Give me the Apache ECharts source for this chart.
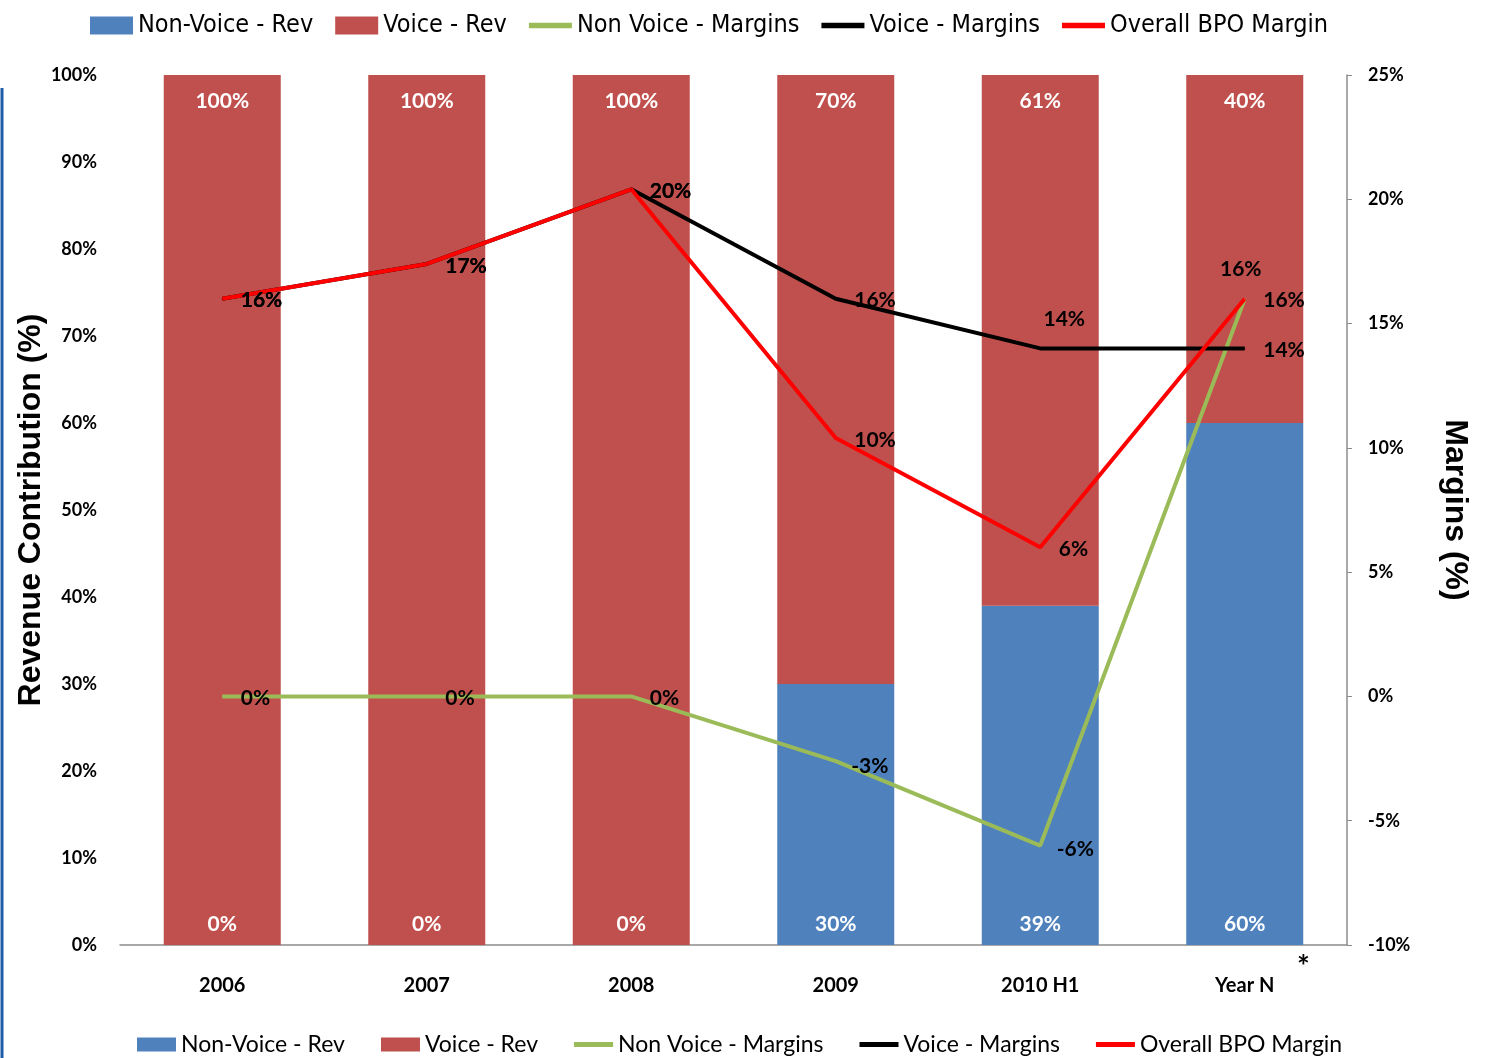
<!DOCTYPE html>
<html>
<head>
<meta charset="utf-8">
<script src="https://cdn.jsdelivr.net/npm/echarts@6/dist/echarts.min.js"></script>
<style>
  html, body { margin: 0; padding: 0; background: #fff; }
  #chart { width: 1488px; height: 1058px; }
</style>
</head>
<body>
<div id="chart"></div>
<script>
// categories and values
var years = ['2006', '2007', '2008', '2009', '2010 H1', 'Year N'];
var nonVoiceRev = [0, 0, 0, 30, 39, 60];
var voiceRev = [100, 100, 100, 70, 61, 40];
var nonVoiceMargin = [0, 0, 0, -2.6, -6.0, 16.0];
var voiceMargin = [16.0, 17.4, 20.4, 16.0, 14.0, 14.0];
var overallMargin = [16.0, 17.4, 20.4, 10.4, 6.0, 16.0];

var seriesNames = ['Non-Voice - Rev', 'Voice - Rev', 'Non Voice - Margins', 'Voice - Margins', 'Overall BPO Margin'];

var labelFont = 'Lato, "Open Sans", sans-serif';
var titleFont = '"Liberation Sans", Arial, sans-serif';
var lineIcon = 'path://M0,0H40V5H0Z';

function pct(p) { return Math.round(p.value) + '%'; }

// legend entries: rect for the bars, a thick bar for the lines
function legendItems() {
  return seriesNames.map(function (n, i) {
    return i < 2 ? { name: n, icon: 'rect' } : { name: n, icon: lineIcon };
  });
}

// per point label placement, index -> label option
function lineData(values, tweaks) {
  return values.map(function (v, i) {
    var item = { value: v };
    if (tweaks[i]) item.label = tweaks[i];
    return item;
  });
}

function lineLabel() {
  return {
    show: true, position: 'right', distance: 18, offset: [0, 2], formatter: pct,
    color: '#000', fontFamily: labelFont, fontWeight: 'bold', fontSize: 21
  };
}

function marginLine(name, values, color, tweaks) {
  return {
    name: name,
    type: 'line',
    yAxisIndex: 1,
    symbol: 'circle',
    symbolSize: 1,
    itemStyle: { color: color },
    lineStyle: { width: 4, color: color },
    data: lineData(values, tweaks),
    label: lineLabel()
  };
}

var option = {
  animation: false,
  color: ['#4F81BD', '#C0504D', '#9BBB59', '#000000', '#FF0000'],
  legend: [
    {
      left: 85,
      top: 8,
      itemWidth: 43,
      itemHeight: 18,
      itemGap: 22,
      textStyle: { fontFamily: '"Liberation Sans Narrow", "DejaVu Sans Condensed", sans-serif', fontSize: 25, color: '#000' },
      data: legendItems()
    },
    {
      left: 132,
      top: 1028,
      itemWidth: 39,
      itemHeight: 14,
      itemGap: 36,
      textStyle: { fontFamily: labelFont, fontSize: 23, color: '#000' },
      data: legendItems()
    }
  ],
  grid: { left: 120, right: 141, top: 75, bottom: 113 },
  xAxis: {
    type: 'category',
    data: years,
    axisLine: { lineStyle: { color: '#8c8c8c', width: 1.5 } },
    axisTick: { show: false },
    axisLabel: { margin: 31, fontFamily: labelFont, fontWeight: 'bold', fontSize: 20, color: '#000' }
  },
  yAxis: [
    {
      type: 'value',
      min: 0, max: 100, interval: 10,
      name: 'Revenue Contribution (%)',
      nameLocation: 'middle',
      nameRotate: 90,
      nameGap: 73,
      nameMoveOverlap: false,
      nameTextStyle: { fontFamily: titleFont, fontWeight: 'bold', fontSize: 32, color: '#000' },
      axisLine: { show: false },
      axisTick: { show: false },
      splitLine: { show: false },
      axisLabel: { margin: 23, formatter: '{value}%', fontFamily: labelFont, fontWeight: 'bold', fontSize: 18, color: '#000' }
    },
    {
      type: 'value',
      min: -10, max: 25, interval: 5,
      name: 'Margins (%)',
      nameLocation: 'middle',
      nameRotate: -90,
      nameGap: 92,
      nameTextStyle: { fontFamily: titleFont, fontWeight: 'bold', fontSize: 32, color: '#000' },
      axisLine: { show: true, lineStyle: { color: '#8c8c8c', width: 1.5 } },
      axisTick: { show: true, length: 5, lineStyle: { color: '#8c8c8c' } },
      splitLine: { show: false },
      axisLabel: { margin: 21, formatter: '{value}%', fontFamily: labelFont, fontWeight: 'bold', fontSize: 18, color: '#000' }
    }
  ],
  series: [
    {
      name: seriesNames[0],
      type: 'bar',
      stack: 'rev',
      barWidth: 117,
      data: nonVoiceRev,
      label: {
        show: true, position: 'insideBottom', distance: 10, formatter: pct,
        color: '#fff', fontFamily: labelFont, fontWeight: 'bold', fontSize: 21
      }
    },
    {
      name: seriesNames[1],
      type: 'bar',
      stack: 'rev',
      barWidth: 117,
      data: voiceRev,
      label: {
        show: true, position: 'insideTop', distance: 16, formatter: pct,
        color: '#fff', fontFamily: labelFont, fontWeight: 'bold', fontSize: 21
      }
    },
    marginLine(seriesNames[2], nonVoiceMargin, '#9BBB59', {
      3: { position: 'right', distance: 15, offset: [0, 5] },
      4: { position: 'right', distance: 16, offset: [0, 4] },
      5: { position: 'top', distance: 5, offset: [-4, -13] }
    }),
    marginLine(seriesNames[3], voiceMargin, '#000000', {
      4: { position: 'top', distance: 5, offset: [24, -13] }
    }),
    marginLine(seriesNames[4], overallMargin, '#FF0000', {})
  ],
  graphic: [
    {
      type: 'line',
      shape: { x1: 2, y1: 88, x2: 2, y2: 1058 },
      style: { stroke: '#1F5CA8', lineWidth: 3 }
    },
    {
      type: 'text',
      left: 1297,
      top: 952,
      style: { text: '*', fontFamily: labelFont, fontWeight: 'bold', fontSize: 30, fill: '#000' }
    }
  ]
};

var chart = echarts.init(document.getElementById('chart'));
chart.setOption(option);
</script>
</body>
</html>
